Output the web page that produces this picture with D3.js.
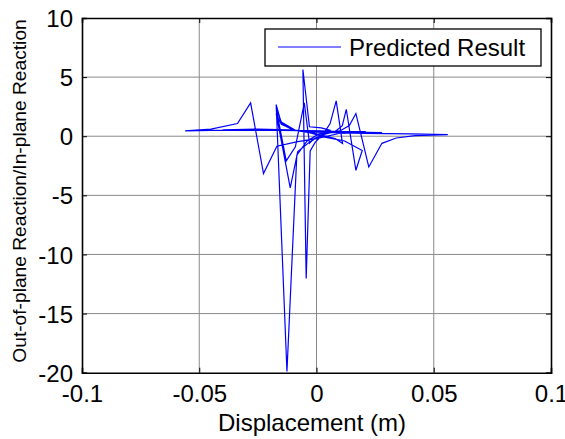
<!DOCTYPE html>
<html>
<head>
<meta charset="utf-8">
<script src="https://cdn.jsdelivr.net/npm/d3@7"></script>
<style>
  body { margin: 0; background: #fff; }
  svg { display: block; font-family: "Liberation Sans", Arial, sans-serif; }
</style>
</head>
<body>
<svg id="chart" width="565" height="439"></svg>
<script>
// tick values
const xTicks = [-0.1, -0.05, 0, 0.05, 0.1];
const yTicks = [-20, -15, -10, -5, 0, 5, 10];
const xTickLabels = ["-0.1", "-0.05", "0", "0.05", "0.1"];
const yTickLabels = ["-20", "-15", "-10", "-5", "0", "5", "10"];

// predicted result (displacement m, reaction ratio)
const disp = [
  0.0000, 0.0030, 0.0060, 0.0020, -0.0030, -0.0058, -0.0044, -0.0027, -0.0005,
  0.0030, 0.0058, 0.0084, 0.0111, 0.0080, 0.0020,
  -0.0040, -0.0100, -0.0150, -0.0172, -0.0112, -0.0080, -0.0030,
  0.0020, 0.0080, 0.0110, 0.0127, 0.0168, 0.0195, 0.0120, 0.0040,
  -0.0030, -0.0090, -0.0150, -0.0172, -0.0129, -0.0090, -0.0052, -0.0030, -0.0010,
  0.0050, 0.0100, 0.0140, 0.0168, 0.0223, 0.0279, 0.0340, 0.0420, 0.0560,
  0.0400, 0.0200, 0.0000, -0.0100, -0.0150, -0.0172, -0.0126, -0.0084, -0.0040,
  0.0010, 0.0080, 0.0150, 0.0210,
  0.0100, 0.0000, -0.0150, -0.0300, -0.0450, -0.0560,
  -0.0450, -0.0337, -0.0281, -0.0226, -0.0169, -0.0080, 0.0000,
  0.0100, 0.0200, 0.0280,
  0.0150, 0.0020, -0.0100, -0.0250, -0.0400,
  -0.0250, -0.0120, -0.0020, 0.0060, 0.0180
];
const ratio = [
  0.10, 0.35, 0.50, 0.70, 0.80, 5.64, -12.04, -1.24, -0.50,
  0.20, 1.07, 2.99, -0.62, -0.20, 0.10,
  0.40, 0.55, 1.00, 1.92, -4.37, -1.30, -0.50,
  0.10, 0.40, 0.90, 2.28, -2.88, -1.20, -0.40, -0.10,
  0.30, 0.50, 1.20, 2.34, -2.09, -0.90, 2.82, -0.60, -0.20,
  0.30, 0.45, 0.90, 1.92, -2.60, -0.60, -0.15, 0.05, 0.14,
  0.20, 0.25, 0.35, 0.50, 1.10, 2.68, -19.90, -1.60, -0.40,
  0.20, 0.35, 0.40, 0.40,
  0.40, 0.45, 0.50, 0.50, 0.50, 0.45,
  0.60, 1.07, 2.82, -3.16, -0.85, -0.45, -0.20,
  0.25, 0.30, 0.30,
  0.35, 0.45, 0.50, 0.55, 0.55,
  0.60, 0.55, 0.40, 0.35, 0.30
];

const svg = d3.select("#chart");
const margin = { left: 82, right: 14, top: 18, bottom: 66.3 };
const W = 565, H = 439;
const x = d3.scaleLinear().domain([-0.1, 0.1]).range([margin.left, W - margin.right]);
const y = d3.scaleLinear().domain([-20, 10]).range([H - margin.bottom, margin.top]);

svg.append("rect").attr("width", W).attr("height", H).attr("fill", "#fff");

// grid
const grid = svg.append("g").attr("stroke", "#8a8a8a").attr("stroke-width", 1);
grid.selectAll(".gx").data(xTicks.slice(1, -1)).join("line")
  .attr("x1", d => x(d)).attr("x2", d => x(d))
  .attr("y1", y(-20)).attr("y2", y(10));
grid.selectAll(".gy").data(yTicks.slice(1, -1)).join("line")
  .attr("x1", x(-0.1)).attr("x2", x(0.1))
  .attr("y1", d => y(d)).attr("y2", d => y(d));

// data line
const pts = disp.map((d, i) => [d, ratio[i]]);
svg.append("path")
  .datum(pts)
  .attr("fill", "none")
  .attr("stroke", "#0000ff")
  .attr("stroke-width", 1.2)
  .attr("d", d3.line().x(d => x(d[0])).y(d => y(d[1])));

// axes, ticks inward on all four sides
const tl = 5;
const axB = svg.append("g").attr("transform", `translate(0,${y(-20)})`)
  .call(d3.axisBottom(x).tickValues(xTicks).tickSize(-tl).tickFormat((d, i) => xTickLabels[i]));
const axT = svg.append("g").attr("transform", `translate(0,${y(10)})`)
  .call(d3.axisTop(x).tickValues(xTicks).tickSize(-tl).tickFormat(""));
const axL = svg.append("g").attr("transform", `translate(${x(-0.1)},0)`)
  .call(d3.axisLeft(y).tickValues(yTicks).tickSize(-tl).tickFormat((d, i) => yTickLabels[i]));
const axR = svg.append("g").attr("transform", `translate(${x(0.1)},0)`)
  .call(d3.axisRight(y).tickValues(yTicks).tickSize(-tl).tickFormat(""));

[axB, axT, axL, axR].forEach(a => {
  a.select(".domain").attr("stroke", "#000").attr("stroke-width", 1.6);
  a.selectAll(".tick line").attr("stroke", "#000");
});
axB.selectAll(".tick text")
  .attr("font-size", 24).attr("fill", "#000")
  .attr("dy", null).attr("y", 29);
axL.selectAll(".tick text")
  .attr("font-size", 24).attr("fill", "#000")
  .attr("x", -9).attr("dy", "0.36em");

// axis labels
svg.append("text")
  .attr("x", 312).attr("y", 431)
  .attr("text-anchor", "middle")
  .attr("font-size", 24)
  .text("Displacement (m)");
svg.append("text")
  .attr("transform", `translate(26,${(18 + 364) / 2}) rotate(-90)`)
  .attr("text-anchor", "middle")
  .attr("font-size", 19.2)
  .text("Out-of-plane Reaction/In-plane Reaction");

// legend
const lg = svg.append("g");
lg.append("rect")
  .attr("x", 265).attr("y", 29).attr("width", 276).attr("height", 37)
  .attr("fill", "#fff").attr("stroke", "#000").attr("stroke-width", 1.3);
lg.append("line")
  .attr("x1", 278).attr("x2", 341).attr("y1", 47).attr("y2", 47)
  .attr("stroke", "#0000ff").attr("stroke-width", 1.2);
lg.append("text")
  .attr("x", 349).attr("y", 55.5)
  .attr("font-size", 24)
  .text("Predicted Result");
</script>
</body>
</html>
